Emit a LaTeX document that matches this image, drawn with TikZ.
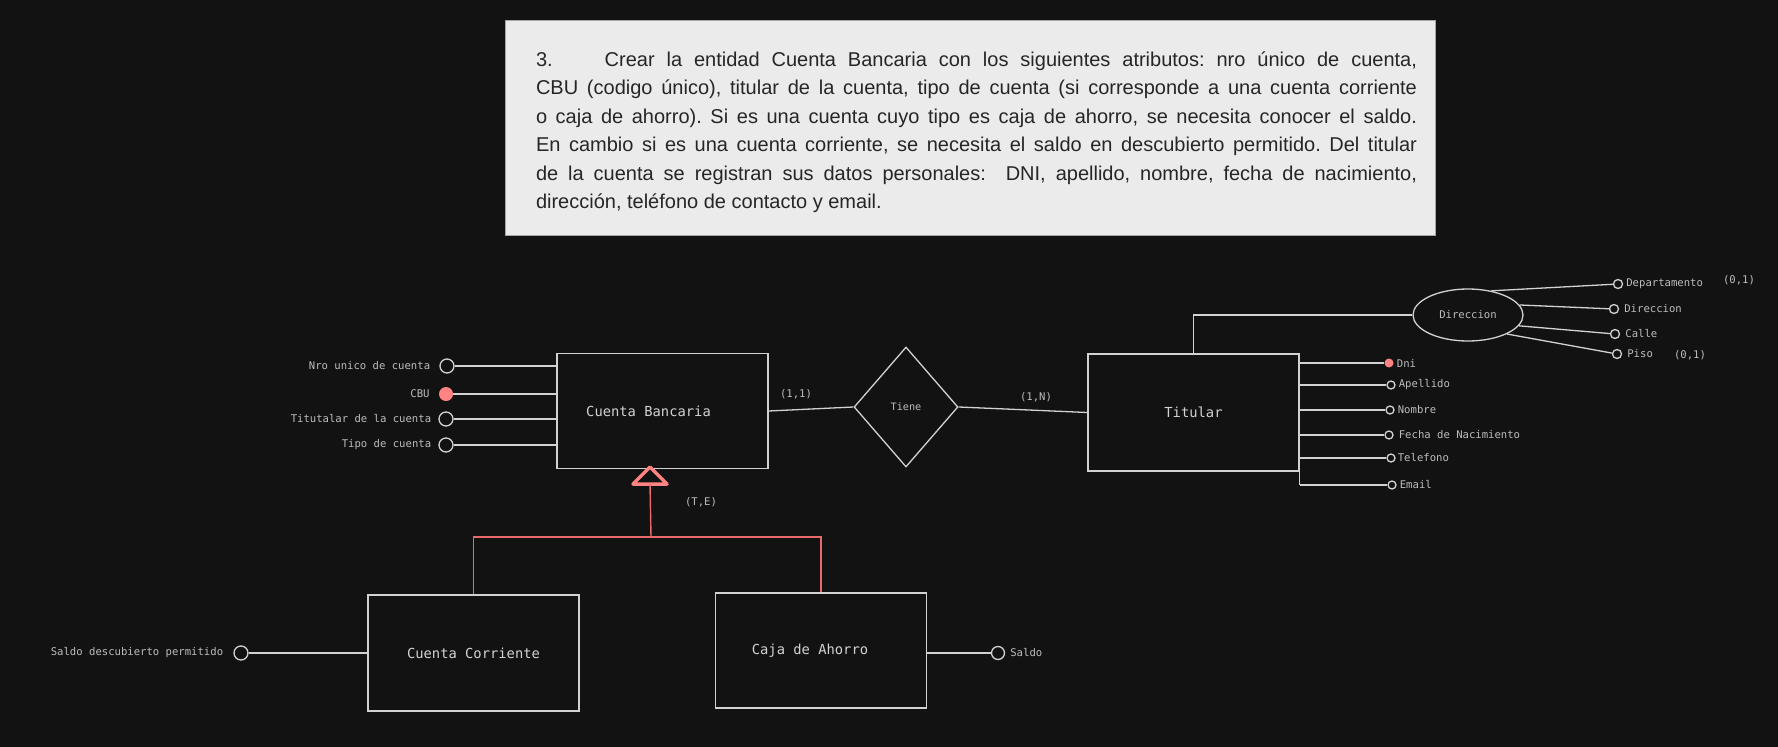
\documentclass[tikz,border=0pt]{standalone}
\usepackage{fontspec}
\setmainfont{Liberation Sans}
\newfontfamily\excali{DejaVu Sans Mono}
\usetikzlibrary{positioning,shapes.geometric}
\definecolor{fondo}{HTML}{121212}
\definecolor{trazo}{HTML}{D2D2D2}
\definecolor{gristexto}{HTML}{BDBDBD}
\definecolor{rojoclave}{HTML}{FF8383}
\definecolor{rojolinea}{HTML}{E86A6A}
\definecolor{hoja}{HTML}{EBEBEB}
\definecolor{borde}{HTML}{A5A5A5}
\definecolor{tinta}{HTML}{262626}

\begin{document}
\begin{tikzpicture}[x=1pt,y=-1pt,
  entidad/.style={draw=trazo,line width=1.3pt,minimum width=211pt,minimum height=115pt,inner sep=0pt,text=trazo,font=\excali\fontsize{13.8}{16}\selectfont},
  relacion/.style={diamond,draw=trazo,line width=1.3pt,minimum width=104pt,minimum height=120pt,inner sep=0pt,text=gristexto,font=\excali\fontsize{10.2}{12}\selectfont},
  compuesto/.style={ellipse,draw=trazo,line width=1.3pt,minimum width=110pt,minimum height=52pt,inner sep=0pt,text=gristexto,font=\excali\fontsize{10.6}{12}\selectfont},
  atrib/.style={circle,draw=trazo,line width=1.3pt,minimum size=14pt,inner sep=0pt},
  atribchico/.style={atrib,minimum size=8pt},
  clave/.style={circle,fill=rojoclave,minimum size=14pt,inner sep=0pt},
  etiqueta/.style={inner sep=0pt,text=gristexto,font=\excali\fontsize{10.6}{12}\selectfont},
  linea/.style={draw=trazo,line width=1.3pt},
  lineaisa/.style={draw=rojolinea,line width=1.4pt},
  triangulo/.style={draw=rojoclave,line width=3.5pt,line join=round},
  hojabox/.style={fill=hoja,draw=borde,line width=1pt,minimum width=930pt,minimum height=215pt},
  enunciado/.style={text width=881pt,align=left,inner sep=0pt,text=tinta,font=\fontsize{20}{28.5}\selectfont}]
\fill[fondo] (0,0) rectangle (1778,747);
\useasboundingbox (0,0) rectangle (1778,747);
\node[hojabox] (enun) at (970,127.5) {};
\node[enunciado] (texto) at (976.5,132) {\spaceskip=0pt\xspaceskip=0pt\frenchspacing
\makebox[881pt][s]{3.\hspace{52pt}Crear la entidad Cuenta Bancaria con los siguientes atributos: nro único de cuenta,}\\
\makebox[881pt][s]{CBU (codigo único), titular de la cuenta, tipo de cuenta (si corresponde a una cuenta corriente}\\
\makebox[881pt][s]{o caja de ahorro). Si es una cuenta cuyo tipo es caja de ahorro, se necesita conocer el saldo.}\\
\makebox[881pt][s]{En cambio si es una cuenta corriente, se necesita el saldo en descubierto permitido. Del titular}\\
\makebox[881pt][s]{de la cuenta se registran sus datos personales: \ DNI, apellido, nombre, fecha de nacimiento,}\\
dirección, teléfono de contacto y email.};
\node[entidad] (cb) at (662.5,411) {Cuenta Bancaria\kern28pt};
\node[entidad,minimum height=117pt] (tit) at (1193.5,412.5) {Titular};
\node[entidad,minimum height=116pt] (cc) at (473.5,653) {Cuenta Corriente};
\node[entidad] (ca) at (821,650.5) {Caja de Ahorro\kern22pt};
\node[relacion] (tiene) at (906,407) {Tiene};
\node[compuesto] (dir) at (1468,315) {Direccion};
\node[atrib] (nro) at (447,366) {};
\node[clave] (cbu) at (446,394) {};
\node[atrib] (titc) at (446,419) {};
\node[atrib] (tipo) at (446,445) {};
\node[etiqueta,left=9pt of nro] (nroL) {Nro unico de cuenta};
\node[etiqueta,left=9pt of cbu] (cbuL) {CBU};
\node[etiqueta,left=7pt of titc] (titcL) {Titutalar de la cuenta};
\node[etiqueta,left=7pt of tipo] (tipoL) {Tipo de cuenta};
\draw[linea] (nro) -- (nro -| cb.west);
\draw[linea] (cbu) -- (cbu -| cb.west);
\draw[linea] (titc) -- (titc -| cb.west);
\draw[linea] (tipo) -- (tipo -| cb.west);
\draw[linea] (cb.east) -- (tiene.west);
\draw[linea] (tiene.east) -- (tit.west);
\node[etiqueta] (c11) at (796,394) {(1,1)};
\node[etiqueta] (c1n) at (1036,397) {(1,N)};
\node[clave,minimum size=9pt] (dni) at (1389,363) {};
\node[atribchico] (ape) at (1391,385) {};
\node[atribchico] (nom) at (1390,410) {};
\node[atribchico] (fec) at (1389,435) {};
\node[atribchico] (tel) at (1391,458) {};
\node[atribchico] (mail) at (1392,485) {};
\node[etiqueta,right=3pt of dni] (dniL) {Dni};
\node[etiqueta,right=3pt of ape] (apeL) {Apellido};
\node[etiqueta,right=3pt of nom] (nomL) {Nombre};
\node[etiqueta,right=5pt of fec] (fecL) {Fecha de Nacimiento};
\node[etiqueta,right=2pt of tel] (telL) {Telefono};
\node[etiqueta,right=3pt of mail] (mailL) {Email};
\draw[linea] (tit.east |- dni) -- (tit.east |- mail);
\draw[linea] (tit.east |- dni) -- (dni);
\draw[linea] (tit.east |- ape) -- (ape);
\draw[linea] (tit.east |- nom) -- (nom);
\draw[linea] (tit.east |- fec) -- (fec);
\draw[linea] (tit.east |- tel) -- (tel);
\draw[linea] (tit.east |- mail) -- (mail);
\draw[linea] (tit.north) |- (dir.west);
\node[atribchico,minimum size=9pt] (dep) at (1618,284) {};
\node[atribchico,minimum size=9pt] (dirc) at (1614,309) {};
\node[atribchico,minimum size=9pt] (calle) at (1615,334) {};
\node[atribchico,minimum size=9pt] (piso) at (1617,354) {};
\node[etiqueta,right=3pt of dep] (depL) {Departamento};
\node[etiqueta,right=5pt of dirc] (dircL) {Direccion};
\node[etiqueta,right=5pt of calle] (calleL) {Calle};
\node[etiqueta,right=5pt of piso] (pisoL) {Piso};
\node[etiqueta] (card1) at (1739,280) {(0,1)};
\node[etiqueta] (card2) at (1690,355) {(0,1)};
\draw[linea] (dir.46) -- (dep);
\draw[linea] (dir.11) -- (dirc);
\draw[linea] (dir.-12) -- (calle);
\draw[linea] (dir.-26) -- (piso);
\coordinate (isa) at (650,484);
\coordinate (bifurca) at (651,537);
\draw[triangulo] (isa) ++(-17,0) -- ++(17,-17) -- ++(17,17) -- cycle;
\draw[lineaisa] (isa) -- (bifurca);
\draw[lineaisa] (cc.north) |- (bifurca) -| (ca.north);
\node[etiqueta] (te) at (701,502) {(T,E)};
\node[atrib,minimum size=13pt] (saldo) at (998,653) {};
\node[etiqueta,right=5pt of saldo] (saldoL) {Saldo};
\draw[linea] (ca.east |- saldo) -- (saldo);
\node[atrib] (desc) at (241,653) {};
\node[etiqueta,left=10pt of desc] (descL) {Saldo descubierto permitido};
\draw[linea] (desc) -- (desc -| cc.west);
\end{tikzpicture}
\end{document}
